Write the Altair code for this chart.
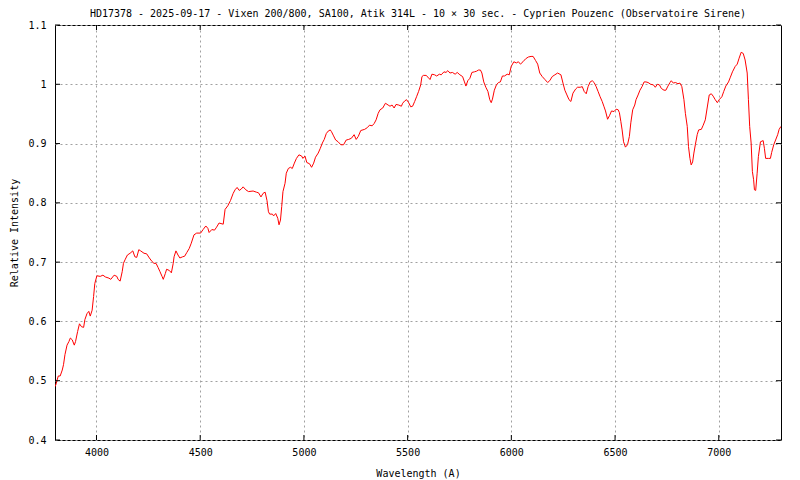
import altair as alt
import pandas as pd

TITLE = "HD17378 - 2025-09-17 - Vixen 200/800, SA100, Atik 314L - 10 × 30 sec. - Cyprien Pouzenc (Observatoire Sirene)"

wavelength = [
    3800, 3806, 3810, 3816, 3825, 3835, 3841, 3848, 3858, 3867, 3874, 3883, 3893, 3899, 3909, 3918,
    3928, 3938, 3944, 3954, 3963, 3970, 3979, 3986, 3992, 4002, 4018, 4031, 4043, 4060, 4069, 4085,
    4098, 4104, 4114, 4124, 4130, 4139, 4149, 4162, 4175, 4185, 4194, 4204, 4213, 4229, 4242, 4255,
    4268, 4277, 4287, 4297, 4306, 4316, 4322, 4332, 4338, 4351, 4361, 4370, 4374, 4383, 4393, 4402,
    4415, 4425, 4435, 4447, 4457, 4470, 4483, 4502, 4514, 4527, 4537, 4543, 4556, 4569, 4579, 4591,
    4611, 4620, 4633, 4646, 4659, 4668, 4678, 4688, 4697, 4707, 4720, 4733, 4755, 4771, 4781, 4793,
    4803, 4813, 4822, 4829, 4835, 4848, 4854, 4864, 4874, 4880, 4887, 4893, 4899, 4909, 4915, 4925,
    4935, 4944, 4954, 4964, 4976, 4989, 4995, 5005, 5014, 5027, 5037, 5047, 5056, 5069, 5079, 5089,
    5098, 5108, 5117, 5127, 5133, 5143, 5153, 5165, 5178, 5191, 5204, 5216, 5229, 5242, 5252, 5262,
    5274, 5293, 5306, 5316, 5329, 5339, 5348, 5358, 5367, 5380, 5393, 5406, 5415, 5425, 5435, 5444,
    5457, 5470, 5476, 5486, 5495, 5505, 5515, 5524, 5534, 5543, 5553, 5563, 5569, 5576, 5589, 5598,
    5608, 5617, 5630, 5640, 5653, 5662, 5675, 5685, 5694, 5704, 5716, 5729, 5739, 5752, 5765, 5774,
    5781, 5790, 5800, 5810, 5822, 5832, 5841, 5851, 5858, 5867, 5877, 5887, 5896, 5903, 5909, 5918,
    5928, 5938, 5947, 5957, 5967, 5980, 5990, 5999, 6012, 6024, 6034, 6044, 6056, 6069, 6082, 6095,
    6105, 6117, 6127, 6137, 6149, 6162, 6175, 6185, 6197, 6210, 6223, 6239, 6249, 6258, 6268, 6278,
    6287, 6297, 6310, 6319, 6332, 6342, 6351, 6361, 6370, 6380, 6390, 6399, 6409, 6418, 6428, 6438,
    6447, 6454, 6464, 6473, 6483, 6495, 6505, 6515, 6521, 6528, 6534, 6541, 6550, 6560, 6569, 6576,
    6585, 6595, 6601, 6611, 6620, 6630, 6640, 6649, 6659, 6672, 6685, 6694, 6704, 6714, 6723, 6736,
    6745, 6755, 6765, 6771, 6781, 6791, 6803, 6813, 6822, 6832, 6839, 6848, 6854, 6861, 6867, 6874,
    6880, 6887, 6896, 6903, 6916, 6925, 6935, 6944, 6954, 6964, 6973, 6983, 6993, 7002, 7015, 7024,
    7034, 7047, 7056, 7066, 7079, 7089, 7098, 7108, 7118, 7127, 7137, 7143, 7149, 7156, 7162, 7168,
    7172, 7178, 7185, 7191, 7201, 7214, 7220, 7226, 7239, 7249, 7255, 7265, 7274, 7284, 7291, 7300,
]

intensity = [
    0.490, 0.495, 0.501, 0.508, 0.508, 0.518, 0.527, 0.544, 0.560, 0.566, 0.572, 0.569, 0.560, 0.566, 0.583, 0.596,
    0.591, 0.590, 0.603, 0.613, 0.617, 0.609, 0.619, 0.642, 0.664, 0.677, 0.676, 0.678, 0.675, 0.673, 0.671, 0.678,
    0.676, 0.671, 0.668, 0.684, 0.698, 0.705, 0.712, 0.715, 0.719, 0.709, 0.708, 0.721, 0.719, 0.715, 0.714, 0.707,
    0.701, 0.698, 0.698, 0.691, 0.684, 0.676, 0.671, 0.681, 0.688, 0.686, 0.682, 0.698, 0.709, 0.719, 0.712, 0.707,
    0.709, 0.710, 0.716, 0.723, 0.732, 0.746, 0.749, 0.749, 0.755, 0.761, 0.757, 0.750, 0.755, 0.754, 0.759, 0.766,
    0.764, 0.789, 0.795, 0.804, 0.816, 0.822, 0.826, 0.821, 0.823, 0.827, 0.822, 0.819, 0.820, 0.818, 0.817, 0.810,
    0.816, 0.818, 0.804, 0.785, 0.781, 0.781, 0.778, 0.782, 0.774, 0.763, 0.771, 0.794, 0.819, 0.833, 0.850, 0.858,
    0.860, 0.858, 0.867, 0.875, 0.881, 0.879, 0.875, 0.879, 0.868, 0.866, 0.860, 0.867, 0.877, 0.884, 0.892, 0.901,
    0.907, 0.917, 0.921, 0.923, 0.920, 0.913, 0.906, 0.903, 0.898, 0.898, 0.906, 0.907, 0.909, 0.915, 0.907, 0.912,
    0.922, 0.924, 0.927, 0.931, 0.930, 0.934, 0.940, 0.951, 0.957, 0.960, 0.968, 0.965, 0.963, 0.965, 0.960, 0.966,
    0.965, 0.963, 0.968, 0.972, 0.974, 0.969, 0.962, 0.963, 0.971, 0.979, 0.988, 0.999, 1.013, 1.015, 1.015, 1.012,
    1.008, 1.017, 1.016, 1.014, 1.017, 1.016, 1.021, 1.020, 1.023, 1.019, 1.020, 1.017, 1.020, 1.016, 1.013, 1.004,
    0.997, 1.006, 1.010, 1.020, 1.021, 1.022, 1.024, 1.024, 1.019, 1.004, 0.995, 0.988, 0.974, 0.969, 0.975, 0.990,
    0.999, 1.003, 1.004, 1.014, 1.014, 1.017, 1.016, 1.030, 1.038, 1.036, 1.038, 1.034, 1.038, 1.043, 1.046, 1.047,
    1.047, 1.040, 1.034, 1.019, 1.013, 1.008, 1.003, 1.006, 1.013, 1.016, 1.019, 1.016, 1.002, 0.990, 0.982, 0.974,
    0.971, 0.985, 0.992, 0.995, 0.995, 0.996, 0.988, 0.984, 0.996, 1.004, 1.006, 1.003, 0.996, 0.988, 0.979, 0.971,
    0.962, 0.955, 0.941, 0.947, 0.955, 0.954, 0.958, 0.957, 0.952, 0.937, 0.923, 0.903, 0.894, 0.898, 0.912, 0.935,
    0.957, 0.965, 0.974, 0.982, 0.990, 0.996, 1.004, 1.004, 1.003, 1.000, 0.999, 0.995, 1.000, 0.999, 0.993, 0.990,
    0.990, 0.997, 1.003, 1.006, 1.002, 1.003, 1.001, 1.002, 0.996, 0.974, 0.951, 0.929, 0.895, 0.875, 0.864, 0.869,
    0.884, 0.898, 0.915, 0.923, 0.924, 0.931, 0.940, 0.960, 0.982, 0.984, 0.980, 0.974, 0.969, 0.974, 0.979, 0.988,
    0.997, 1.004, 1.012, 1.021, 1.030, 1.034, 1.044, 1.054, 1.052, 1.041, 1.019, 0.974, 0.929, 0.901, 0.853, 0.839,
    0.822, 0.821, 0.850, 0.878, 0.903, 0.905, 0.892, 0.875, 0.875, 0.875, 0.885, 0.898, 0.906, 0.915, 0.924, 0.929,
]

x_ticks = [4000, 4500, 5000, 5500, 6000, 6500, 7000]
y_ticks = [0.4, 0.5, 0.6, 0.7, 0.8, 0.9, 1.0, 1.1]

W, H = 726, 415
FONT = "DejaVu Sans Mono"

df = pd.DataFrame({"wl": wavelength, "I": intensity})
dfx = pd.DataFrame({"wl": x_ticks})
dfy = pd.DataFrame({"I": y_ticks})

xscale = alt.Scale(domain=[3800, 7300], nice=False, zero=False)
yscale = alt.Scale(domain=[0.4, 1.1], nice=False, zero=False)
xaxis = alt.Axis(values=x_ticks, format="d", grid=True, domain=False, ticks=False,
                 labelPadding=7, titlePadding=11, title="Wavelength (A)")
yaxis = alt.Axis(values=y_ticks, format="~g", grid=True, domain=False, ticks=False,
                 labelPadding=9, titlePadding=8, title="Relative Intensity")

line = alt.Chart(df).mark_line(color="#ff0000", strokeWidth=1, clip=True).encode(
    x=alt.X("wl:Q", scale=xscale, axis=xaxis),
    y=alt.Y("I:Q", scale=yscale, axis=yaxis),
)

tick_len = 5
xb = alt.Chart(dfx).mark_rule(color="black", strokeWidth=1).encode(
    x=alt.X("wl:Q", scale=xscale, axis=xaxis), y=alt.value(H), y2=alt.value(H - tick_len))
xt = alt.Chart(dfx).mark_rule(color="black", strokeWidth=1).encode(
    x=alt.X("wl:Q", scale=xscale, axis=xaxis), y=alt.value(0), y2=alt.value(tick_len))
yl = alt.Chart(dfy).mark_rule(color="black", strokeWidth=1).encode(
    y=alt.Y("I:Q", scale=yscale, axis=yaxis), x=alt.value(0), x2=alt.value(tick_len))
yr = alt.Chart(dfy).mark_rule(color="black", strokeWidth=1).encode(
    y=alt.Y("I:Q", scale=yscale, axis=yaxis), x=alt.value(W), x2=alt.value(W - tick_len))

chart = alt.layer(line, xb, xt, yl, yr).properties(
    width=W, height=H,
    background="white",
    title=alt.TitleParams(TITLE, font=FONT, fontSize=10, fontWeight="normal",
                          anchor="middle", offset=1, color="black"),
    autosize=alt.AutoSizeParams(type="none"),
    padding={"left": 47, "top": 17, "right": 10, "bottom": 40},
).configure_view(
    stroke="black", strokeWidth=1
).configure_axis(
    labelFont=FONT, labelFontSize=10, labelColor="black",
    titleFont=FONT, titleFontSize=10, titleFontWeight="normal", titleColor="black",
    gridColor="#a0a0a0", gridDash=[2, 3], gridWidth=1, gridOpacity=1,
)

chart.save("out.html", embed_options={"renderer": "svg", "actions": False})
